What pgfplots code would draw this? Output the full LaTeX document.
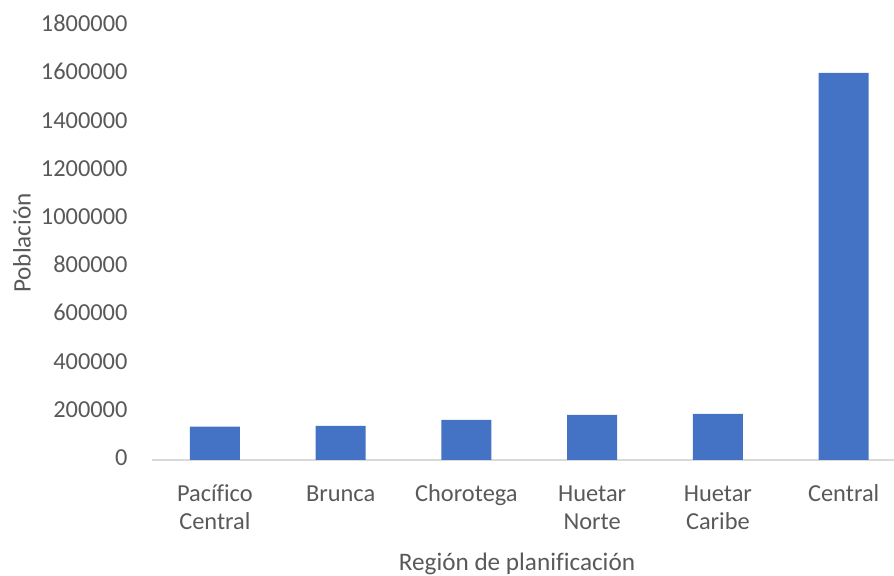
\documentclass[border=0pt]{standalone}
\usepackage{fontspec}
\setmainfont{Carlito}[Ligatures=CommonOff]
\usepackage{pgfplots}
\pgfplotsset{compat=1.18}

\definecolor{barblue}{HTML}{4472C4}
\definecolor{txtgray}{HTML}{595959}
\definecolor{axgray}{HTML}{D9D9D9}

\begin{document}
\fontsize{12.2}{14}\selectfont
\begin{tikzpicture}
\useasboundingbox (-76pt,-58pt) rectangle (371pt,230pt);
\begin{axis}[
    scale only axis,
    width=371pt,
    height=217pt,
    xmin=-0.5, xmax=5.4,
    ymin=0, ymax=1800000,
    ytick={0,200000,...,1800000},
    xtick=data,
    xticklabels={Pacífico\\Central, Brunca, Chorotega, Huetar\\Norte, Huetar\\Caribe, Central},
    typeset ticklabels with strut,
    xticklabel style={align=center, anchor=north, yshift=-6.5pt, text=txtgray},
    yticklabel style={xshift=-8pt, text=txtgray},
    /pgf/number format/fixed,
    /pgf/number format/1000 sep={},
    /pgf/number format/assume math mode=true,
    scaled y ticks=false,
    major tick length=0pt,
    axis x line*=bottom,
    axis y line*=left,
    y axis line style={draw=none},
    x axis line style={axgray, line width=0.75pt, -},
    ybar,
    bar width=25pt,
    every axis y label/.style={at={(axis description cs:0,0.5)}, xshift=-65pt, rotate=90, anchor=center, text=txtgray, font=\fontsize{12.6}{15}\selectfont},
    every axis x label/.style={at={(axis description cs:0.5,0)}, xshift=-3pt, yshift=-52pt, anchor=center, text=txtgray, font=\fontsize{12.6}{15}\selectfont},
    ylabel={Población},
    xlabel={Región de planificación},
    clip=false,
]
\addplot[fill=barblue, draw=none] coordinates {
    (0, 138000)
    (1, 142000)
    (2, 166000)
    (3, 187000)
    (4, 191000)
    (5, 1606000)
};
\end{axis}
\end{tikzpicture}
\end{document}
